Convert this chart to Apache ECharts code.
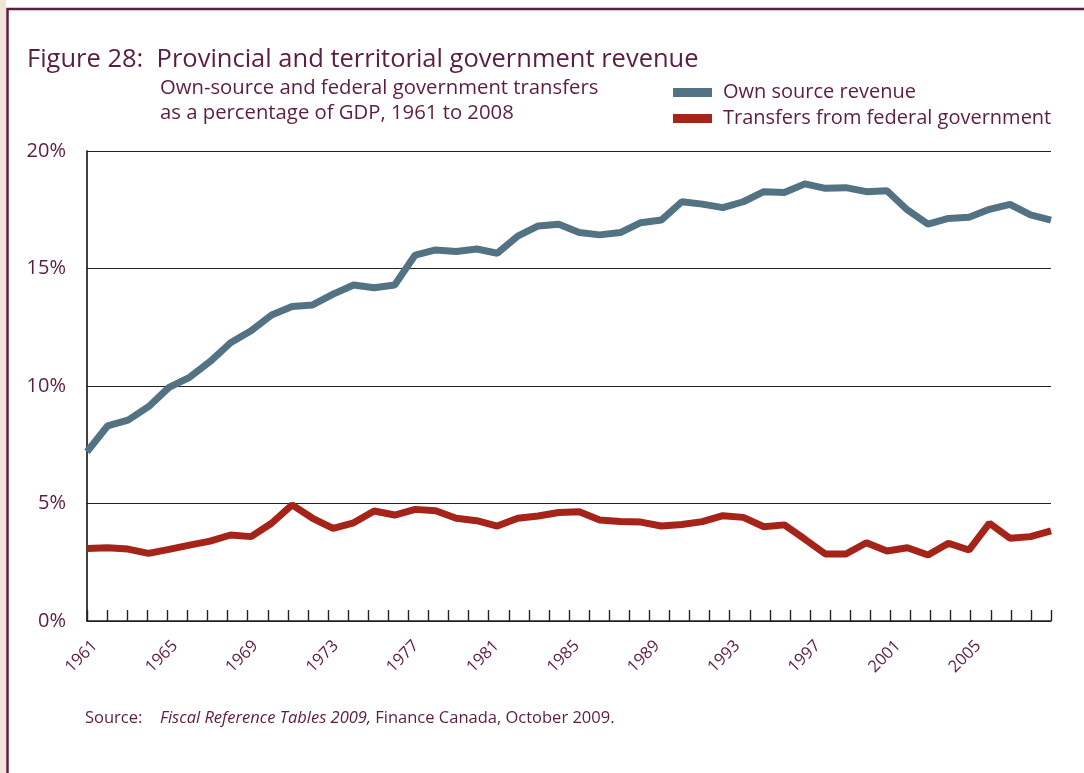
<!DOCTYPE html>
<html lang="en">
<head>
<meta charset="UTF-8">
<title>Figure 28</title>
<style>
    html, body { margin: 0; padding: 0; background: #fff; }
    #main { width: 1084px; height: 773px; }
</style>
</head>
<body>
<div id="main"></div>
<script src="https://cdn.jsdelivr.net/npm/echarts@6/dist/echarts.min.js"></script>
<script>
    // provincial/territorial revenue, % of GDP
    var years = [1961, 1962, 1963, 1964, 1965, 1966, 1967, 1968, 1969, 1970,
        1971, 1972, 1973, 1974, 1975, 1976, 1977, 1978, 1979, 1980,
        1981, 1982, 1983, 1984, 1985, 1986, 1987, 1988, 1989, 1990,
        1991, 1992, 1993, 1994, 1995, 1996, 1997, 1998, 1999, 2000,
        2001, 2002, 2003, 2004, 2005, 2006, 2007, 2008];
    var ownSource = [7.20, 8.30, 8.55, 9.12, 9.94, 10.37, 11.04, 11.84, 12.35, 13.02,
        13.38, 13.45, 13.91, 14.30, 14.18, 14.30, 15.57, 15.79, 15.72, 15.83,
        15.65, 16.38, 16.81, 16.88, 16.53, 16.43, 16.53, 16.95, 17.06, 17.84,
        17.74, 17.59, 17.84, 18.27, 18.23, 18.60, 18.41, 18.44, 18.27, 18.31,
        17.49, 16.89, 17.13, 17.18, 17.52, 17.73, 17.28, 17.06];
    var transfers = [3.09, 3.12, 3.06, 2.88, 3.05, 3.23, 3.40, 3.66, 3.59, 4.16,
        4.94, 4.37, 3.94, 4.18, 4.68, 4.51, 4.75, 4.69, 4.37, 4.27,
        4.04, 4.37, 4.47, 4.62, 4.65, 4.30, 4.23, 4.21, 4.04, 4.11,
        4.23, 4.48, 4.41, 4.01, 4.09, 3.48, 2.85, 2.85, 3.33, 2.98,
        3.12, 2.81, 3.31, 3.02, 4.16, 3.52, 3.59, 3.83];
    var yearLabels = [1961, 1965, 1969, 1973, 1977, 1981, 1985, 1989, 1993, 1997, 2001, 2005];

    var txt = '#5c1d43';
    var font = '"Open Sans", Lato, sans-serif';

    var myChart = echarts.init(document.getElementById('main'));
    var option = {
        backgroundColor: '#fff',
        textStyle: { fontFamily: font },
        grid: { left: 87, right: 33, top: 151, bottom: 152 },
        legend: {
            orient: 'vertical',
            left: 673,
            top: 82,
            padding: 0,
            itemGap: 5,
            itemWidth: 39,
            itemHeight: 9,
            icon: 'rect',
            textStyle: { color: txt, fontSize: 20, lineHeight: 21, fontFamily: font, padding: [0, 0, 0, 6] },
            data: ['Own source revenue', 'Transfers from federal government']
        },
        xAxis: [{
            // ticks and year labels
            type: 'value',
            min: 1961,
            max: 2009,
            interval: 1,
            position: 'bottom',
            axisLine: { show: true, lineStyle: { color: '#222', width: 1.6 } },
            axisTick: { show: true, inside: true, length: 11, lineStyle: { color: '#222', width: 1.4 } },
            splitLine: { show: false },
            axisLabel: {
                rotate: 45,
                margin: 30,
                padding: [0, -11, 0, 0],
                color: txt,
                fontSize: 16.5,
                fontFamily: font,
                formatter: function (v) {
                    return yearLabels.indexOf(v) >= 0 ? String(v) : '';
                }
            }
        }, {
            // data axis
            type: 'category',
            data: years,
            boundaryGap: false,
            show: false,
            position: 'bottom'
        }],
        yAxis: {
            type: 'value',
            min: 0,
            max: 20,
            interval: 5,
            axisLine: { show: true, lineStyle: { color: '#111', width: 1.6 } },
            axisTick: { show: false },
            splitLine: { show: true, lineStyle: { color: '#222', width: 1 } },
            axisLabel: {
                margin: 21,
                color: txt,
                fontSize: 20,
                fontFamily: font,
                formatter: '{value}%'
            }
        },
        series: [{
            name: 'Own source revenue',
            type: 'line',
            xAxisIndex: 1,
            data: ownSource,
            symbol: 'none',
            color: '#537384',
            lineStyle: { width: 7, color: '#537384' }
        }, {
            name: 'Transfers from federal government',
            type: 'line',
            xAxisIndex: 1,
            data: transfers,
            symbol: 'none',
            color: '#a52318',
            lineStyle: { width: 7, color: '#a52318' }
        }],
        graphic: [{
            type: 'rect',
            shape: { x: 0, y: 0, width: 6, height: 773 },
            style: { fill: '#efe4d6' },
            silent: true
        }, {
            type: 'rect',
            shape: { x: 7.5, y: 9, width: 1100, height: 800 },
            style: { fill: 'none', stroke: '#5c1d43', lineWidth: 2.5 },
            silent: true
        }, {
            type: 'text',
            x: 27, y: 60,
            style: {
                text: 'Figure 28:  Provincial and territorial government revenue',
                fill: txt, font: '25.5px ' + font, verticalAlign: 'middle'
            }
        }, {
            type: 'text',
            x: 160, y: 88,
            style: {
                text: 'Own-source and federal government transfers',
                fill: txt, font: '20.3px ' + font, verticalAlign: 'middle'
            }
        }, {
            type: 'text',
            x: 160, y: 113,
            style: {
                text: 'as a percentage of GDP, 1961 to 2008',
                fill: txt, font: '20.3px ' + font, verticalAlign: 'middle'
            }
        }, {
            type: 'text',
            x: 85, y: 718,
            style: {
                text: 'Source:',
                fill: txt, font: '16.5px ' + font, verticalAlign: 'middle'
            }
        }, {
            type: 'text',
            x: 160, y: 718,
            style: {
                text: '{i|Fiscal Reference Tables 2009,} Finance Canada, October 2009.',
                fill: txt, font: '16.5px ' + font, verticalAlign: 'middle',
                rich: { i: { fontStyle: 'italic', fontSize: 16.5, fontFamily: font, fill: txt } }
            }
        }]
    };
    myChart.setOption(option);
</script>
</body>
</html>
